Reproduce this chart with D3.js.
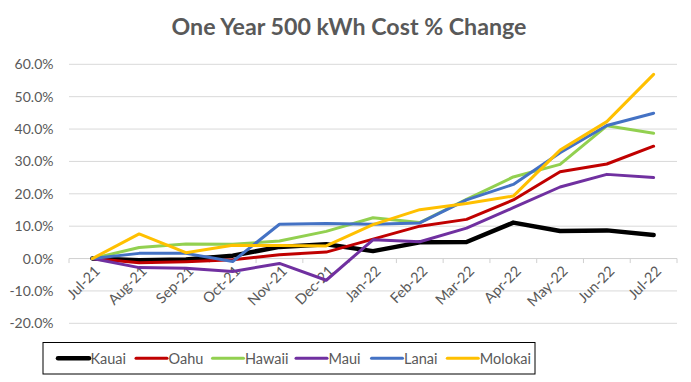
<!DOCTYPE html>
<html>
<head>
<meta charset="utf-8">
<script src="https://cdn.jsdelivr.net/npm/d3@7"></script>
<style>
  html, body { margin: 0; padding: 0; background: #fff; }
  svg { display: block; }
  text { font-family: Lato, "Open Sans", sans-serif; }
</style>
</head>
<body>
<svg id="chart" width="691" height="382"></svg>
<script>
const categories = ["Jul-21","Aug-21","Sep-21","Oct-21","Nov-21","Dec-21","Jan-22","Feb-22","Mar-22","Apr-22","May-22","Jun-22","Jul-22"];
const kauai   = [0, -0.5, -0.3, 0.9, 3.6, 4.4, 2.3, 5.0, 5.1, 11.1, 8.5, 8.7, 7.3];
const oahu    = [0, -1.3, -1.0, -0.4, 1.2, 2.0, 6.0, 10.0, 12.1, 18.1, 26.8, 29.2, 34.7];
const hawaii  = [0, 3.4, 4.5, 4.4, 5.4, 8.4, 12.6, 11.1, 18.3, 25.2, 29.1, 41.0, 38.7];
const maui    = [0, -2.8, -3.0, -4.0, -1.5, -6.7, 5.8, 5.2, 9.4, 15.7, 22.1, 26.0, 25.0];
const lanai   = [0, 1.6, 1.6, -0.9, 10.6, 10.8, 10.6, 11.0, 18.1, 22.9, 32.7, 41.1, 44.9];
const molokai = [0, 7.6, 1.8, 4.1, 4.0, 3.9, 10.5, 15.1, 17.0, 19.3, 33.5, 42.3, 56.9];
const seriesNames = ["Kauai","Oahu","Hawaii","Maui","Lanai","Molokai"];
const seriesValues = [kauai, oahu, hawaii, maui, lanai, molokai];
const seriesColors = ["#000000","#C00000","#92D050","#7030A0","#4472C4","#FFC000"];
const yTicks = [-20, -10, 0, 10, 20, 30, 40, 50, 60];
const title = "One Year 500 kWh Cost % Change";

(function () {
const svg = d3.select("#chart");
const pLeft = 69, pRight = 677, pTop = 64.3, pBottom = 323.3;

const x = d3.scaleBand().domain(categories).range([pLeft, pRight]).padding(0);
const y = d3.scaleLinear().domain([-20, 60]).range([pBottom, pTop]);

// title
svg.append("text")
  .attr("x", 349).attr("y", 35)
  .attr("text-anchor", "middle")
  .attr("font-size", 23.2).attr("font-weight", "bold")
  .attr("fill", "#595959")
  .text(title);

// gridlines
svg.append("g").selectAll("line").data(yTicks.filter(d => d !== 0)).join("line")
  .attr("x1", pLeft).attr("x2", pRight)
  .attr("y1", d => y(d)).attr("y2", d => y(d))
  .attr("stroke", "#d9d9d9").attr("stroke-width", 1);

// y axis labels
const yAxis = d3.axisLeft(y).tickValues(yTicks).tickSize(0).tickPadding(0)
  .tickFormat(d => d.toFixed(1) + "%");
const gy = svg.append("g").attr("transform", `translate(${pLeft - 15.5},0)`).call(yAxis);
gy.select(".domain").remove();
gy.selectAll("text").attr("font-size", 14).attr("fill", "#595959")
  .attr("font-family", "Lato, 'Open Sans', sans-serif");

// x axis at zero
const boundaries = categories.map(c => x(c)).concat([pRight]);
svg.append("line")
  .attr("x1", pLeft).attr("x2", pRight)
  .attr("y1", y(0)).attr("y2", y(0))
  .attr("stroke", "#d0d0d0").attr("stroke-width", 1);
svg.append("g").selectAll("line").data(boundaries).join("line")
  .attr("x1", d => d).attr("x2", d => d)
  .attr("y1", y(0)).attr("y2", y(0) + 4.5)
  .attr("stroke", "#d0d0d0").attr("stroke-width", 1);

// x labels rotated
svg.append("g").selectAll("text").data(categories).join("text")
  .attr("transform", d => `translate(${x(d) + x.bandwidth() / 2 + 5},${y(0) + 10}) rotate(-45)`)
  .attr("text-anchor", "end")
  .attr("dy", "0.35em")
  .attr("font-size", 14.5).attr("fill", "#595959")
  .text(d => d);

// lines
const line = d3.line()
  .x((d, i) => x(categories[i]) + x.bandwidth() / 2)
  .y(d => y(d));
seriesValues.forEach((vals, si) => {
  svg.append("path")
    .datum(vals)
    .attr("d", line)
    .attr("fill", "none")
    .attr("stroke", seriesColors[si])
    .attr("stroke-width", si === 0 ? 4.5 : 3)
    .attr("stroke-linejoin", "round")
    .attr("stroke-linecap", "round");
});

// legend
const legX0 = 43, legY0 = 342.5, legW = 492, legH = 31.5;
svg.append("rect")
  .attr("x", legX0).attr("y", legY0).attr("width", legW).attr("height", legH)
  .attr("fill", "#fff").attr("stroke", "#000").attr("stroke-width", 1);
const legStarts = [58, 136, 212.5, 296, 371.5, 447.3];
const lg = svg.append("g").selectAll("g").data(seriesNames).join("g")
  .attr("transform", (d, i) => `translate(${legStarts[i]},${358.3})`);
lg.append("line")
  .attr("x1", 0).attr("x2", 31).attr("y1", 0).attr("y2", 0)
  .attr("stroke", (d, i) => seriesColors[i])
  .attr("stroke-width", (d, i) => i === 0 ? 4.5 : 3)
  .attr("stroke-linecap", "round");
lg.append("text")
  .attr("x", 32.5).attr("y", 0).attr("dy", "0.36em")
  .attr("font-size", 14.5).attr("fill", "#595959")
  .text(d => d);
})();
</script>
</body>
</html>
